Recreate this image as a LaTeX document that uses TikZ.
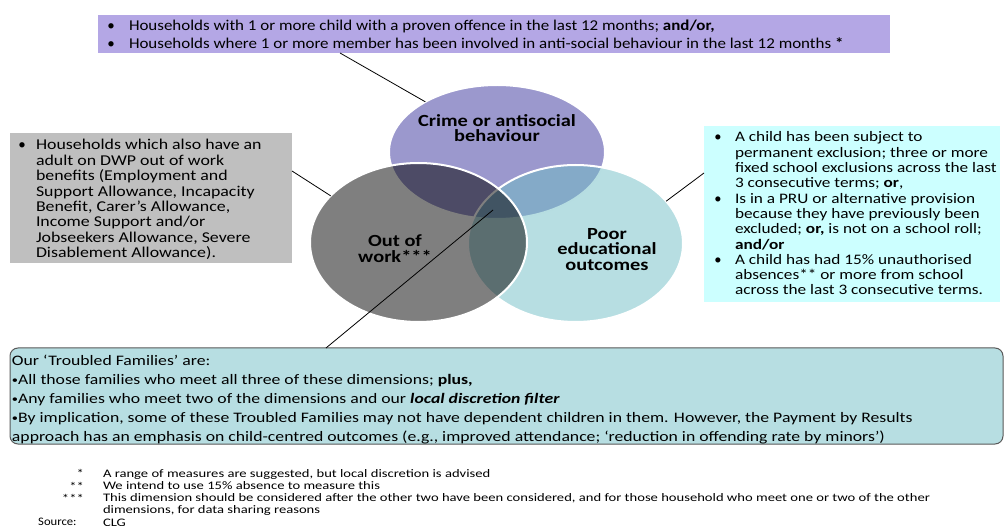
\documentclass[tikz,border=0pt]{standalone}
\usepackage{fontspec}
\setmainfont{Carlito}
\usetikzlibrary{shapes.geometric,calc}
\definecolor{topboxc}{RGB}{180,167,229}
\definecolor{crimec}{RGB}{155,152,205}
\definecolor{educ}{RGB}{111,189,197}
\definecolor{grayboxc}{RGB}{191,191,191}
\definecolor{cyanboxc}{RGB}{204,255,255}
\definecolor{botboxc}{RGB}{183,222,226}
\definecolor{botdraw}{RGB}{89,89,89}
\newcommand\txtlines[6]{%
  \foreach \tln [count=\i from 0] in {#6}{%
    \node[tl] (#1\i) at (#2,{#3+\i*#4}) {\scalebox{#5}[1]{\tln}};}}
\newcommand\xs[2]{\scalebox{#1}[1]{#2}}
\newcommand\smb{\raisebox{1pt}{\scalebox{0.7}{•}}}
\begin{document}
\begin{tikzpicture}[x=1pt,y=-1pt,
  tl/.style={anchor=base west, inner sep=0pt, outer sep=0pt},
  bul/.style={anchor=base, inner sep=0pt, outer sep=0pt},
  boxn/.style={anchor=north west, inner sep=0pt, outer sep=0pt},
  venn/.style={ellipse, inner sep=0pt, outer sep=0pt, draw=white, line width=2pt},
  vlabel/.style={align=center, inner sep=0pt, font=\fontsize{17}{15.8}\selectfont\bfseries},
  conn/.style={draw=black, line width=0.8pt}]
\useasboundingbox (0,0) rectangle (1004,526);

% boxes
\node[boxn, fill=topboxc, minimum width=792pt, minimum height=38pt] (topbox) at (98,15) {};
\node[boxn, fill=grayboxc, minimum width=282pt, minimum height=130pt] (graybox) at (10,133) {};
\node[boxn, fill=cyanboxc, minimum width=296pt, minimum height=176pt] (cyanbox) at (704,126) {};
\node[boxn, fill=botboxc, draw=botdraw, line width=1pt, rounded corners=8pt, minimum width=993pt, minimum height=96pt] (botbox) at (10,348) {};

% venn
\node[venn, fill=crimec, minimum width=216pt, minimum height=134pt] (crime) at (497,152) {};
\node[venn, fill=educ, fill opacity=0.5, minimum width=215pt, minimum height=157pt] (edu) at (575.5,243.5) {};
\node[venn, fill=black, fill opacity=0.5, minimum width=217pt, minimum height=159pt] (work) at (418.5,242.5) {};
\coordinate (core) at (493,210);

\node[vlabel] (crimeT) at (497,128) {\xs{1.2}{Crime or antisocial}\\\xs{1.2}{behaviour}};
\node[vlabel] (workT) at (395,248.5) {\xs{1.2}{Out of}\\\xs{1.2}{work***}};
\node[vlabel] (eduT) at (607,249.5) {\xs{1.2}{Poor}\\\xs{1.2}{educational}\\\xs{1.2}{outcomes}};

% connectors
\draw[conn] ([xshift=242pt]topbox.south west) -- (crime.145);
\draw[conn] ([yshift=27pt]graybox.east) -- (work.152);
\draw[conn] ([yshift=41pt]cyanbox.west) -- (edu.25);
\draw[conn] (core) -- ([xshift=316pt]botbox.north west);

% top box text
\begin{scope}[font=\fontsize{15}{16}\selectfont]
\node[bul] (tb0) at (111,31) {\textbullet};
\node[bul] (tb1) at (111,49) {\textbullet};
\txtlines{tt}{129}{31}{18}{1.13}{{Households with 1 or more child with a proven offence in the last 12 months; \textbf{and/or,}},
 {Households where 1 or more member has been involved in anti-social behaviour in the last 12 months \textbf{*}}}
\end{scope}

% gray box text
\begin{scope}[font=\fontsize{15}{16}\selectfont]
\node[bul] (gb0) at (22,150) {\textbullet};
\txtlines{gt}{36}{150}{15.4}{1.19}{{Households which also have an},{adult on DWP out of work},{benefits (Employment and},{Support Allowance, Incapacity},{Benefit, Carer’s Allowance,},{Income Support and/or},{Jobseekers Allowance, Severe},{Disablement Allowance).}}
\end{scope}

% cyan box text
\begin{scope}[font=\fontsize{14.5}{16}\selectfont]
\node[bul] (cb0) at (718,142) {\textbullet};
\node[bul] (cb1) at (718,203.2) {\textbullet};
\node[bul] (cb2) at (718,264.4) {\textbullet};
\txtlines{ct}{735}{142}{15.3}{1.19}{{A child has been subject to},{permanent exclusion; three or more},{fixed school exclusions across the last},{3 consecutive terms; \textbf{or},},{Is in a PRU or alternative provision},{because they have previously been},{excluded; \textbf{or,} is not on a school roll;},{\textbf{and/or}},{A child has had 15\% unauthorised},{absences** or more from school},{across the last 3 consecutive terms.}}
\end{scope}

% bottom box text
\begin{scope}[font=\fontsize{14.5}{16}\selectfont]
\txtlines{bt}{12}{365.5}{19}{1.22}{{Our ‘Troubled Families’  are:},{\smb All those families who meet all three of these dimensions; \textbf{plus,}},{\smb Any families who meet two of the dimensions and our \textbf{\textit{local discretion filter}}},{\smb By implication, some of these Troubled Families may not have dependent children in them.  However, the Payment by Results},{approach has an emphasis on child-centred outcomes (e.g., improved attendance; ‘reduction in offending rate by minors’)}}
\end{scope}

% footnotes
\begin{scope}[font=\fontsize{11.5}{12}\selectfont]
\node[anchor=base east, inner sep=0pt] (f0) at (84,477) {\xs{1.27}{*}};
\node[anchor=base east, inner sep=0pt] (f1) at (84,490) {\xs{1.27}{**}};
\node[anchor=base east, inner sep=0pt] (f2) at (84,502) {\xs{1.27}{***}};
\node[anchor=base west, inner sep=0pt] (f3) at (38,525.5) {\xs{1.1}{Source:}};
\txtlines{ft}{103}{477}{12.25}{1.27}{{A range of measures are suggested, but local discretion is advised},{We intend to use 15\% absence to measure this},{This dimension should be considered after the other two have been considered, and for those household who meet one or two of the other},{dimensions, for data sharing reasons},{CLG}}
\end{scope}
\end{tikzpicture}
\end{document}
